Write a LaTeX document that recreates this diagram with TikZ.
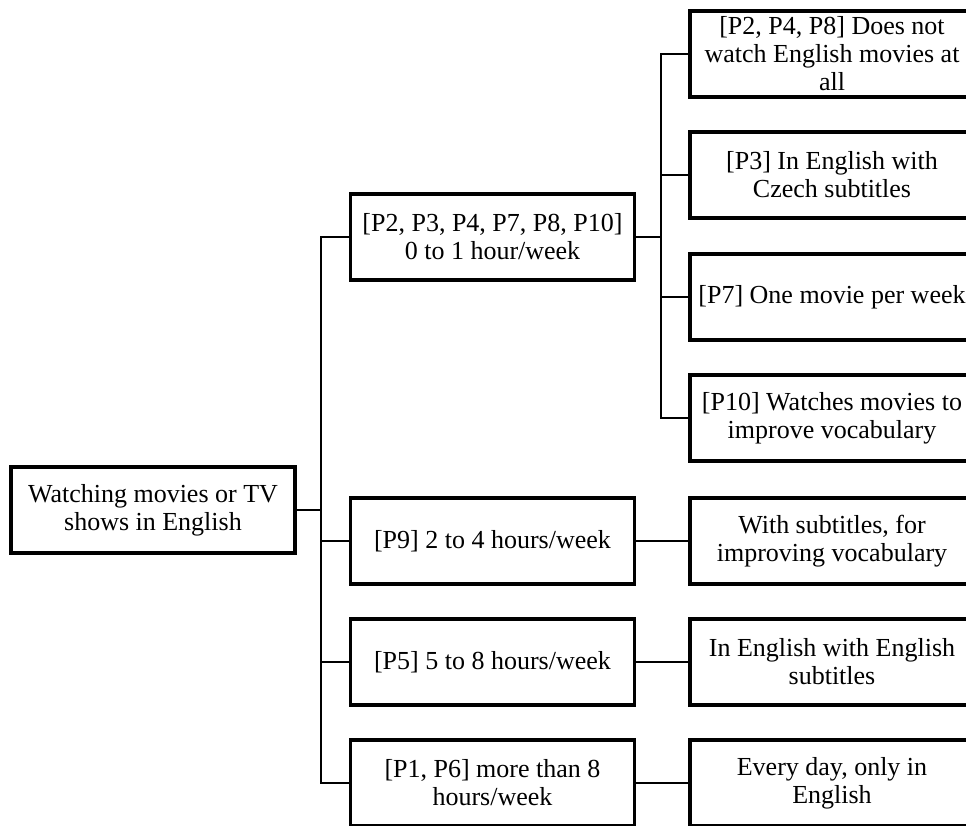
\documentclass[tikz,border=0pt]{standalone}
\usepackage{fontspec}
\setmainfont{Liberation Serif}
\usetikzlibrary{calc}
\newcommand*{\boxw }{284pt}
\newcommand*{\boxh }{86pt}
\newcommand*{\gap  }{27.5pt}
\newcommand*{\colA }{153}
\newcommand*{\colB }{492.5}
\newcommand*{\colC }{832}

\begin{document}
\begin{tikzpicture}[x=1pt, y=-1pt,
    box/.style={draw, line width=3.4pt, rectangle, inner sep=0pt,
                text width=\boxw, minimum height=\boxh, align=flush center,
                font=\fontsize{26}{28}\selectfont},
    link/.style={line width=2.2pt}]
    \useasboundingbox (0,0) rectangle (966,825);
    \clip (0,0) rectangle (966,825);
    % first column
    \node [box] (root) at (\colA,510) {Watching movies or TV\\ shows in English};
    % second column
    \node [box] (m1) at (\colB,237) {[P2, P3, P4, P7, P8, P10]\\ 0 to 1 hour/week};
    \node [box] (m2) at (\colB,541) {[P9] 2 to 4 hours/week};
    \node [box] (m3) at (\colB,662) {[P5] 5 to 8 hours/week};
    \node [box] (m4) at (\colB,783) {[P1, P6] more than 8\\ hours/week};
    % third column
    \node [box] (r1) at (\colC, 54) {[P2, P4, P8] Does not\\ watch English movies at\\ all};
    \node [box] (r2) at (\colC,175) {[P3] In English with\\ Czech subtitles};
    \node [box] (r3) at (\colC,297) {[P7] One movie per week};
    \node [box] (r4) at (\colC,418) {[P10] Watches movies to\\ improve vocabulary};
    \node [box] (r5) at (\colC,541) {With subtitles, for\\ improving vocabulary};
    \node [box] (r6) at (\colC,662) {In English with English\\ subtitles};
    \node [box] (r7) at (\colC,783) {Every day, only in\\ English};
    % connectors
    \foreach \m in {m1,m2,m3,m4}
        \draw [link] (root.east) -| ([xshift=-\gap]\m.west) -- (\m.west);
    \foreach \r in {r1,r2,r3,r4}
        \draw [link] (m1.east) -| ([xshift=-\gap]\r.west) -- (\r.west);
    \draw [link] (m2.east) -- (r5.west);
    \draw [link] (m3.east) -- (r6.west);
    \draw [link] (m4.east) -- (r7.west);
    %\draw [red] (0,0) rectangle (966,825);
\end{tikzpicture}
\end{document}
